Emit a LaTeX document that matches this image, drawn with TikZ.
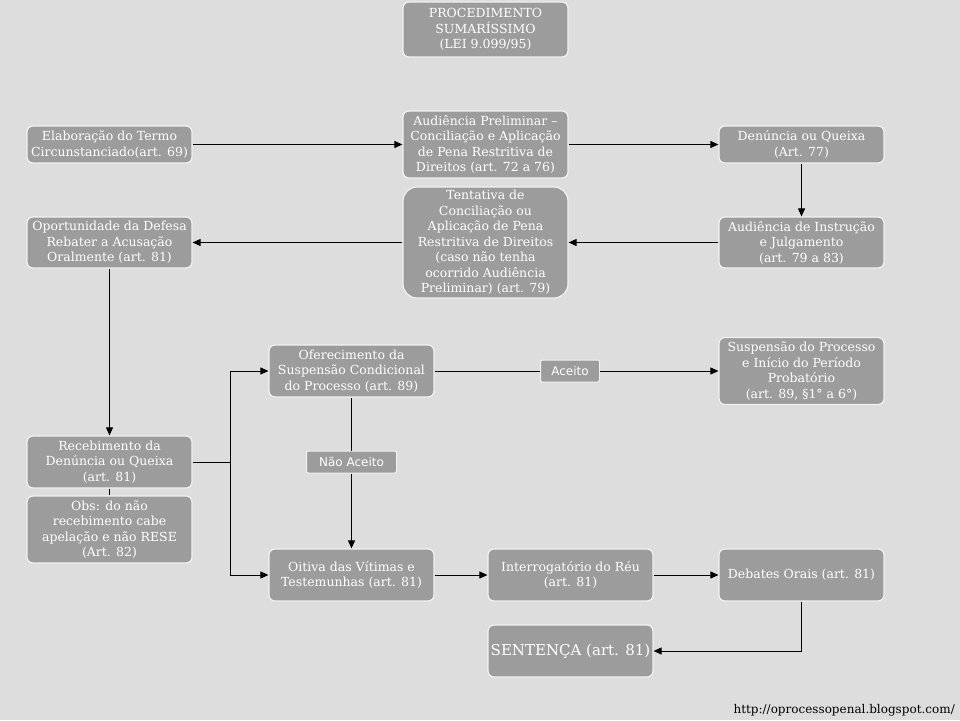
\documentclass[tikz,border=0pt]{standalone}
\usepackage{fontspec}
\setmainfont{DejaVu Serif}
\setsansfont{DejaVu Sans}
\usetikzlibrary{arrows.meta}

\definecolor{bggray}{HTML}{DDDDDD}
\definecolor{boxgray}{HTML}{9C9C9C}

\begin{document}
\begin{tikzpicture}[x=1pt,y=-1pt,
    box/.style={draw=white!95!black,line width=1.2pt,fill=boxgray,rounded corners=6pt,text=white,align=center,minimum width=165pt,inner sep=1pt,font=\fontsize{12.5}{15.5}\selectfont},
    lbl/.style={draw=white!95!black,line width=1pt,fill=boxgray,rounded corners=2pt,text=white,minimum height=22pt,inner sep=2pt,font=\sffamily\fontsize{12}{14}\selectfont},
    arc/.style={draw,line width=0.9pt,-{Triangle[length=8pt,width=7pt]}},
    line/.style={draw,line width=0.9pt}]
        \fill[bggray] (0,0) rectangle (960,720);
        \useasboundingbox (0,0) rectangle (960,720);

        \node[box,minimum height=55pt] (titulo) at (485.5,29.5) {PROCEDIMENTO\\SUMARÍSSIMO\\(LEI 9.099/95)};

        \node[box,minimum height=37pt] (elab) at (109.5,144.5) {Elaboração do Termo\\Circunstanciado(art. 69)};
        \node[box,minimum height=67pt] (audprel) at (485.5,144.5) {Audiência Preliminar –\\Conciliação e Aplicação\\de Pena Restritiva de\\Direitos (art. 72 a 76)};
        \node[box,minimum height=37pt] (denuncia) at (801.5,144.5) {Denúncia ou Queixa\\(Art. 77)};

        \node[box,minimum height=51pt] (oport) at (109.5,242.5) {Oportunidade da Defesa\\Rebater a Acusação\\Oralmente (art. 81)};
        \node[box,minimum height=111pt,rounded corners=14pt] (tentativa) at (485.5,242.5) {Tentativa de\\Conciliação ou\\Aplicação de Pena\\Restritiva de Direitos\\(caso não tenha\\ocorrido Audiência\\Preliminar) (art. 79)};
        \node[box,minimum height=51pt] (audinstr) at (801.5,242.5) {Audiência de Instrução\\e Julgamento\\(art. 79 a 83)};

        \node[box,minimum height=52pt] (ofer) at (351.5,371) {Oferecimento da\\Suspensão Condicional\\do Processo (art. 89)};
        \node[box,minimum height=67pt] (susp) at (801.5,371) {Suspensão do Processo\\e Início do Período\\Probatório\\(art. 89, §1° a 6°)};
        \node[lbl,minimum width=59pt] (aceito) at (570,371) {Aceito};

        \node[box,minimum height=52pt] (receb) at (109.5,462) {Recebimento da\\Denúncia ou Queixa\\(art. 81)};
        \node[box,minimum height=67pt] (obs) at (109.5,529.5) {Obs: do não\\recebimento cabe\\apelação e não RESE\\(Art. 82)};
        \node[lbl,minimum width=90pt] (naoaceito) at (351.5,462) {Não Aceito};
        \coordinate (split) at (230,462);

        \node[box,minimum height=52pt] (oitiva) at (351.5,575) {Oitiva das Vítimas e\\Testemunhas (art. 81)};
        \node[box,minimum height=52pt] (interrog) at (570.5,575) {Interrogatório do Réu\\(art. 81)};
        \node[box,minimum height=52pt] (debates) at (801.5,575) {Debates Orais (art. 81)};
        \node[box,minimum height=52pt,font=\fontsize{15}{18}\selectfont] (sentenca) at (570.5,651) {SENTENÇA (art. 81)};

        \node[anchor=south east,inner sep=0pt,font=\fontsize{12}{14}\selectfont] (url) at (955,716) {http://oprocessopenal.blogspot.com/};

        % fluxo principal
        \draw[arc] (elab) -- (audprel);
        \draw[arc] (audprel) -- (denuncia);
        \draw[arc] (denuncia) -- (audinstr);
        \draw[arc] (audinstr) -- (tentativa);
        \draw[arc] (tentativa) -- (oport);
        \draw[arc] (oport) -- (receb);
        \draw[line] (receb) -- (obs);
        \draw[line] (receb) -- (split);
        \draw[arc] (split) |- (ofer);
        \draw[arc] (split) |- (oitiva);
        \draw[line] (ofer) -- (aceito);
        \draw[arc] (aceito) -- (susp);
        \draw[line] (ofer) -- (naoaceito);
        \draw[arc] (naoaceito) -- (oitiva);
        \draw[arc] (oitiva) -- (interrog);
        \draw[arc] (interrog) -- (debates);
        \draw[arc] (debates) |- (sentenca);
    \end{tikzpicture}
\end{document}
